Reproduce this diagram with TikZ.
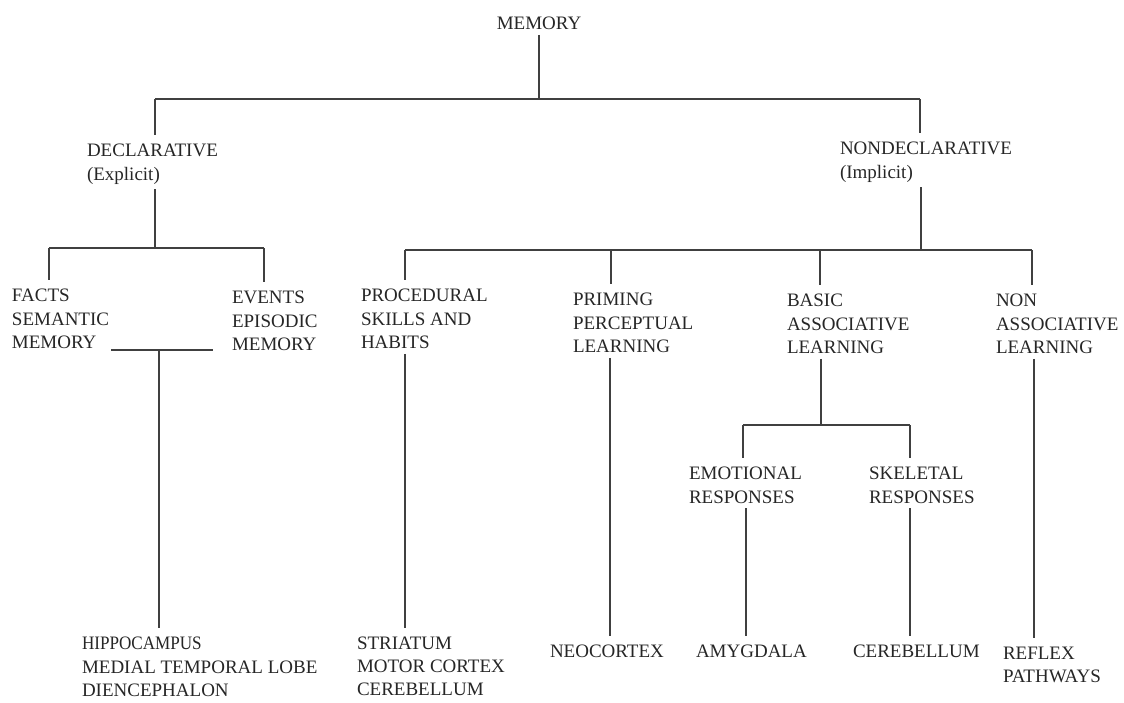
\documentclass[tikz,border=0pt]{standalone}
\usepackage{fontspec}
\setmainfont{Liberation Serif}
\usepackage{graphicx}
\usetikzlibrary{positioning,calc}

\tikzset{
  lbl/.style={anchor=north west, align=left, inner sep=0pt, outer xsep=0pt, outer ysep=5pt,
    font=\fontsize{19}{23.5}\selectfont, text=black!85},
  link/.style={line width=1.3pt, black!75},
  drop/.style={link, shorten >=4pt},
}

\begin{document}
\begin{tikzpicture}[x=1pt,y=-1pt]
  \useasboundingbox (0,0) rectangle (1124,702);

  % labels
  \node[lbl, anchor=north] (mem) at (539,12) {MEMORY};
  \node[lbl] (decl) at (87,139) {DECLARATIVE\\(Explicit)};
  \node[lbl] (nondecl) at (840,137) {NONDECLARATIVE\\(Implicit)};

  \node[lbl] (facts) at (12,284) {FACTS\\SEMANTIC\\MEMORY};
  \node[lbl] (events) at (232,286) {EVENTS\\EPISODIC\\MEMORY};
  \node[lbl] (proc) at (361,284) {PROCEDURAL\\SKILLS AND\\HABITS};
  \node[lbl] (prim) at (573,288) {PRIMING\\PERCEPTUAL\\LEARNING};
  \node[lbl] (basic) at (787,289) {BASIC\\ASSOCIATIVE\\LEARNING};
  \node[lbl] (nonassoc) at (996,289) {NON\\ASSOCIATIVE\\LEARNING};

  \node[lbl] (emot) at (689,462) {EMOTIONAL\\RESPONSES};
  \node[lbl] (skel) at (869,462) {SKELETAL\\RESPONSES};

  \node[lbl] (hippo) at (82,632) {\scalebox{0.9}[1]{HIPPOCAMPUS}\\MEDIAL TEMPORAL LOBE\\DIENCEPHALON};
  \node[lbl, font=\fontsize{19}{23}\selectfont] (stri) at (357,632) {STRIATUM\\MOTOR CORTEX\\CEREBELLUM};
  \node[lbl] (neo) at (550,640) {NEOCORTEX};
  \node[lbl] (amyg) at (696,640) {AMYGDALA};
  \node[lbl] (cereb) at (853,640) {CEREBELLUM};
  \node[lbl] (reflex) at (1003,642) {REFLEX\\PATHWAYS};

  % memory split
  \coordinate (top) at (539,99);
  \coordinate (topL) at (155,99);
  \coordinate (topR) at (920,99);
  \draw[link] (mem.south) -- (top);
  \draw[link] (topL) -- (topR);
  \draw[drop] (topL) -- (decl.north -| topL);
  \draw[drop] (topR) -- (nondecl.north -| topR);

  % declarative
  \coordinate (dcl) at (155,248);
  \coordinate (dclL) at (49,248);
  \coordinate (dclR) at (264,248);
  \draw[link] (decl.south -| dcl) -- (dcl);
  \draw[link] (dclL) -- (dclR);
  \draw[drop] (dclL) -- (facts.north -| dclL);
  \draw[drop] (dclR) -- (events.north -| dclR);

  \coordinate (fe) at (159,350);
  \coordinate (feL) at (111,350);
  \coordinate (feR) at (213,350);
  \draw[link] (feL) -- (feR);
  \draw[drop] (fe) -- (hippo.north -| fe);

  % nondeclarative
  \coordinate (ndc) at (921,250);
  \coordinate (ndcL) at (405,250);
  \coordinate (ndcR) at (1032,250);
  \draw[link] (nondecl.south -| ndc) -- (ndc);
  \draw[link] (ndcL) -- (ndcR);
  \foreach \n/\x in {proc/405, prim/611, basic/820, nonassoc/1032}
    \draw[drop] (\x,250) -- (\n.north -| \x,250);

  \foreach \a/\b/\x in {proc/stri/405, prim/neo/610, nonassoc/reflex/1034}
    \draw[drop] (\a.south -| \x,0) -- (\b.north -| \x,0);

  % associative
  \coordinate (asc) at (821,425);
  \coordinate (ascL) at (743,425);
  \coordinate (ascR) at (910,425);
  \draw[link] (basic.south -| asc) -- (asc);
  \draw[link] (ascL) -- (ascR);
  \draw[drop] (ascL) -- (emot.north -| ascL);
  \draw[drop] (ascR) -- (skel.north -| ascR);
  \draw[drop] (emot.south -| 746,0) -- (amyg.north -| 746,0);
  \draw[drop] (skel.south -| ascR) -- (cereb.north -| ascR);
\end{tikzpicture}
\end{document}
